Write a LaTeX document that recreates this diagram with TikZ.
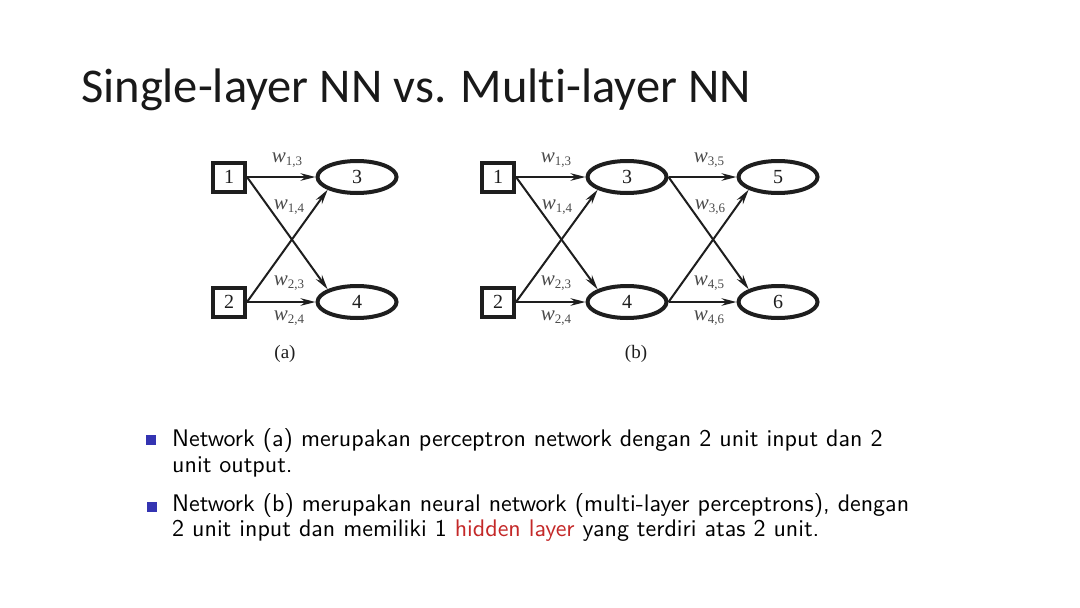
\documentclass[tikz,border=0pt]{standalone}
\usepackage{fontspec}
\usetikzlibrary{shapes.geometric,arrows.meta}
\newfontfamily\titlefont{Carlito}[Ligatures={NoCommon}]
\newfontfamily\figfont{Liberation Serif}
\newfontfamily\bulletfont{lmsans10-regular.otf}
\definecolor{bulletblue}{RGB}{52,52,178}
\definecolor{hidred}{RGB}{196,40,40}
\definecolor{figgray}{RGB}{30,30,30}
\definecolor{labgray}{RGB}{75,75,75}
\newcommand{\wl}[1]{{\itshape w}{\fontsize{13}{13}\selectfont\raisebox{-3pt}{#1}}}
\begin{document}
\begin{tikzpicture}[x=1pt,y=-1pt,
  inbox/.style={draw=figgray,line width=4pt,minimum width=32pt,minimum height=29pt,inner sep=0pt,font=\figfont\fontsize{20}{20}\selectfont,text=figgray},
  unit/.style={draw=figgray,ellipse,line width=4pt,minimum width=79pt,minimum height=32pt,inner sep=0pt,font=\figfont\fontsize{20}{20}\selectfont,text=figgray},
  conn/.style={draw=figgray,line width=2pt,-{Stealth[length=15pt,width=7.5pt]}},
  wlab/.style={font=\figfont\fontsize{21}{21}\selectfont,text=labgray,inner sep=0pt},
  figcap/.style={font=\figfont\fontsize{19}{19}\selectfont,text=figgray},
  btxt/.style={anchor=base west,font=\bulletfont\fontsize{24}{24}\selectfont,inner sep=0pt},
  bsq/.style={fill=bulletblue,minimum size=9.5pt,inner sep=0pt}]
\useasboundingbox (0,0) rectangle (1080,608);
\fill[white] (0,0) rectangle (1080,608);
\node[anchor=west,inner sep=0pt,text=black!90,font=\titlefont\fontsize{48.5}{48.5}\selectfont] (title) at (81,90) {Single-layer NN vs. Multi-layer NN};
% (a)
\node[inbox] (a1) at (229,177) {1};
\node[inbox] (a2) at (229,302) {2};
\node[unit] (a3) at (357,177) {3};
\node[unit] (a4) at (357,302) {4};
\draw[conn] (a1.east) -- (a3.west);
\draw[conn] (a2.east) -- (a4.west);
\draw[conn] (a1.east) -- (a4.north west);
\draw[conn] (a2.east) -- (a3.south west);
\node[wlab] (la13) at (287,160) {\wl{1,3}};
\node[wlab] (la14) at (289,207) {\wl{1,4}};
\node[wlab] (la23) at (289,283) {\wl{2,3}};
\node[wlab] (la24) at (289,318) {\wl{2,4}};
\node[figcap] (capa) at (285,354) {(a)};
% (b)
\node[inbox] (b1) at (498,177) {1};
\node[inbox] (b2) at (498,302) {2};
\node[unit] (b3) at (627,177) {3};
\node[unit] (b4) at (627,302) {4};
\node[unit] (b5) at (778,177) {5};
\node[unit] (b6) at (778,302) {6};
\draw[conn] (b1.east) -- (b3.west);
\draw[conn] (b2.east) -- (b4.west);
\draw[conn] (b1.east) -- (b4.north west);
\draw[conn] (b2.east) -- (b3.south west);
\draw[conn] (b3.east) -- (b5.west);
\draw[conn] (b4.east) -- (b6.west);
\draw[conn] (b3.east) -- (b6.north west);
\draw[conn] (b4.east) -- (b5.south west);
\node[wlab] (lb13) at (556,160) {\wl{1,3}};
\node[wlab] (lb14) at (557,207) {\wl{1,4}};
\node[wlab] (lb23) at (556,283) {\wl{2,3}};
\node[wlab] (lb24) at (556,318) {\wl{2,4}};
\node[wlab] (lb35) at (709,160) {\wl{3,5}};
\node[wlab] (lb36) at (710,207) {\wl{3,6}};
\node[wlab] (lb45) at (709,283) {\wl{4,5}};
\node[wlab] (lb46) at (709,318) {\wl{4,6}};
\node[figcap] (capb) at (636,354) {(b)};
% bullets
\node[bsq] (s1) at (151,440) {};
\node[btxt] (t1a) at (172,446) {Network (a) merupakan perceptron network dengan 2 unit input dan 2};
\node[btxt] (t1b) at (172,472) {unit output.};
\node[bsq] (s2) at (152,507) {};
\node[btxt] (t2a) at (172,511) {Network (b) merupakan neural network (multi-layer perceptrons), dengan};
\node[btxt] (t2b) at (172,536) {2 unit input dan memiliki 1 \textcolor{hidred}{hidden layer} yang terdiri atas 2 unit.};
\end{tikzpicture}
\end{document}
